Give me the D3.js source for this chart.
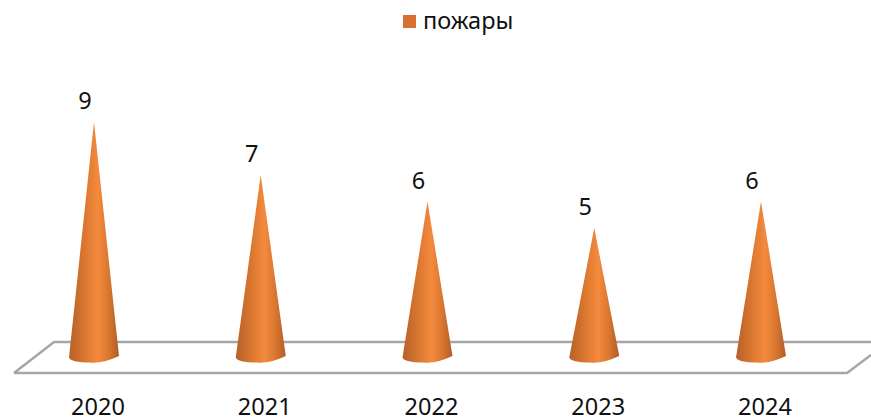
<!DOCTYPE html>
<html>
<head>
<meta charset="utf-8">
<script src="https://cdnjs.cloudflare.com/ajax/libs/d3/7.8.5/d3.min.js"></script>
<style>
  html, body { margin: 0; padding: 0; background: #fff; }
  svg { display: block; }
  text { font-family: "Noto Sans", "Open Sans", sans-serif; fill: #111; }
</style>
</head>
<body>
<div id="chart"></div>
<script>
var years = ["2020", "2021", "2022", "2023", "2024"];
var fires = [9, 7, 6, 5, 6];
var seriesName = "пожары";

var width = 871, height = 419;

var svg = d3.select("#chart").append("svg")
  .attr("width", width)
  .attr("height", height);

// horizontal shading of the cones
var grad = svg.append("defs").append("linearGradient")
  .attr("id", "coneFill")
  .attr("x1", "0").attr("x2", "1").attr("y1", "0").attr("y2", "0");
grad.append("stop").attr("offset", "0").attr("stop-color", "#b5602a");
grad.append("stop").attr("offset", "0.3").attr("stop-color", "#d8762f");
grad.append("stop").attr("offset", "0.58").attr("stop-color", "#f48a3d");
grad.append("stop").attr("offset", "0.8").attr("stop-color", "#d8762f");
grad.append("stop").attr("offset", "1").attr("stop-color", "#b05c28");

var x = d3.scalePoint().domain(years).range([94, 761]);
var y = d3.scaleLinear().domain([0, 9]).range([360.5, 122]);

// floor of the 3d plot
svg.append("path")
  .attr("d", "M14,373L54,342L871,342M871,355L847,373L14,373")
  .attr("fill", "none")
  .attr("stroke", "#a6a6a6")
  .attr("stroke-width", 2.5);

var baseHalf = 25;

svg.selectAll(".cone")
  .data(years)
  .enter().append("path")
  .attr("class", "cone")
  .attr("fill", "url(#coneFill)")
  .attr("d", function(d, i) {
    var cx = x(d);
    var top = y(fires[i]);
    var base = y(0);
    return "M" + cx + "," + top +
      "L" + (cx + baseHalf) + "," + (base - 4.5) +
      "Q" + (cx + 8) + "," + (base + 3.5) + " " + (cx - 4) + "," + (base + 2) +
      "Q" + (cx - baseHalf + 2) + "," + (base + 2) + " " + (cx - baseHalf) + "," + (base - 3) +
      "Z";
  });

svg.selectAll(".value")
  .data(years)
  .enter().append("text")
  .attr("class", "value")
  .attr("x", function(d) { return x(d) - 9; })
  .attr("y", function(d, i) { return y(fires[i]) - 13; })
  .attr("text-anchor", "middle")
  .style("font-size", "23.5px")
  .text(function(d, i) { return fires[i]; });

var axis = d3.axisBottom(x).tickSize(0).tickPadding(0);
var axisG = svg.append("g")
  .attr("transform", "translate(3.5,393)")
  .call(axis);
axisG.select(".domain").remove();
axisG.selectAll("text")
  .attr("dy", 0)
  .attr("y", 22)
  .style("font-size", "23.5px");

svg.append("rect")
  .attr("x", 403).attr("y", 15)
  .attr("width", 13).attr("height", 13)
  .attr("fill", "#d8702f");
svg.append("text")
  .attr("x", 423).attr("y", 29)
  .style("font-size", "23.5px")
  .text(seriesName);
</script>
</body>
</html>
